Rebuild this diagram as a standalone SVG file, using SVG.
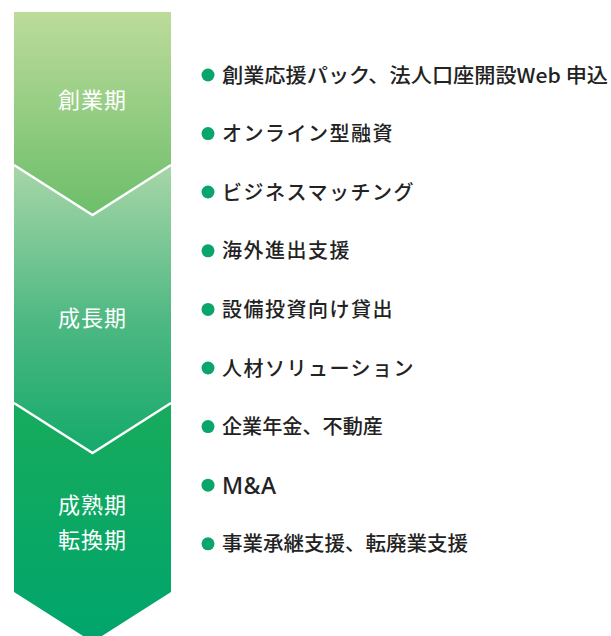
<svg xmlns="http://www.w3.org/2000/svg" width="611" height="636" viewBox="0 0 611 636">
<style>
.stage{font-family:"Noto Sans CJK JP","Noto Sans",sans-serif;font-size:22px;fill:#ffffff;text-anchor:middle;letter-spacing:1px}
.item{font-family:"Noto Sans CJK JP","Noto Sans",sans-serif;font-size:20px;font-weight:500;fill:#222222;letter-spacing:1.5px}
.dot{fill:#0aa56a}
.sep{fill:none;stroke:#ffffff;stroke-width:2.5}
</style>
<defs>
<linearGradient id="g1" gradientUnits="userSpaceOnUse" x1="0" y1="12" x2="0" y2="215">
<stop offset="0" stop-color="#bcdb9a"/><stop offset="1" stop-color="#6cbe6b"/>
</linearGradient>
<linearGradient id="g2" gradientUnits="userSpaceOnUse" x1="0" y1="165" x2="0" y2="453">
<stop offset="0" stop-color="#a8d6a8"/><stop offset="0.55" stop-color="#4db882"/><stop offset="1" stop-color="#14aa6b"/>
</linearGradient>
<linearGradient id="g3" gradientUnits="userSpaceOnUse" x1="0" y1="403" x2="0" y2="640">
<stop offset="0" stop-color="#17ab5c"/><stop offset="1" stop-color="#00a56c"/>
</linearGradient>
</defs>
<g id="stage1">
<polygon points="14,12 171,12 171,165 92.5,215 14,165" fill="url(#g1)"/>
<text class="stage" x="92.5" y="108">創業期</text>
</g>
<g id="stage2">
<polygon points="14,165 92.5,215 171,165 171,403 92.5,453 14,403" fill="url(#g2)"/>
<text class="stage" x="92.5" y="326">成長期</text>
</g>
<g id="stage3">
<polygon points="14,403 92.5,453 171,403 171,592 92.5,642 14,592" fill="url(#g3)"/>
<text class="stage" x="92.5" y="513">成熟期</text>
<text class="stage" x="92.5" y="548">転換期</text>
</g>
<g id="connectors">
<polyline class="sep" points="14,165 92.5,215 171,165"/>
<polyline class="sep" points="14,403 92.5,453 171,403"/>
</g>
<g id="items">
<g id="item1"><circle class="dot" cx="208" cy="75" r="6.5"/><text class="item" x="222" y="82.5" textLength="386" lengthAdjust="spacingAndGlyphs" style="letter-spacing:0">創業応援パック、法人口座開設Web 申込</text></g>
<g id="item2"><circle class="dot" cx="208" cy="133.6" r="6.5"/><text class="item" x="222" y="141">オンライン型融資</text></g>
<g id="item3"><circle class="dot" cx="208" cy="192" r="6.5"/><text class="item" x="222" y="199.5">ビジネスマッチング</text></g>
<g id="item4"><circle class="dot" cx="208" cy="250.8" r="6.5"/><text class="item" x="222" y="258.3">海外進出支援</text></g>
<g id="item5"><circle class="dot" cx="208" cy="309.4" r="6.5"/><text class="item" x="222" y="317">設備投資向け貸出</text></g>
<g id="item6"><circle class="dot" cx="208" cy="368" r="6.5"/><text class="item" x="222" y="375.5">人材ソリューション</text></g>
<g id="item7"><circle class="dot" cx="208" cy="426.6" r="6.5"/><text class="item" x="222" y="434" textLength="161" lengthAdjust="spacingAndGlyphs" style="letter-spacing:0">企業年金、不動産</text></g>
<g id="item8"><circle class="dot" cx="208" cy="485.2" r="6.5"/><text class="item" x="222" y="493.5" style="font-family:'Noto Sans',sans-serif;font-size:23px;letter-spacing:0.5px">M&amp;A</text></g>
<g id="item9"><circle class="dot" cx="208" cy="543.8" r="6.5"/><text class="item" x="222" y="551.3" textLength="246" lengthAdjust="spacingAndGlyphs" style="letter-spacing:0">事業承継支援、転廃業支援</text></g>
</g>
</svg>
